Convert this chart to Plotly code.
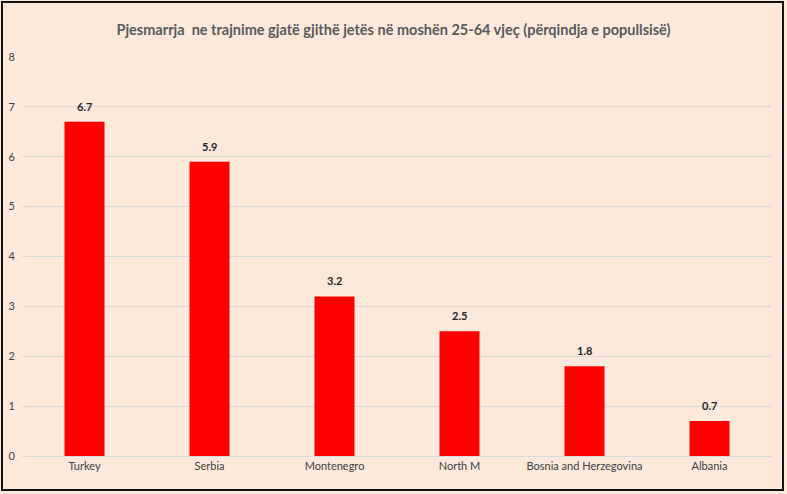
import plotly.graph_objects as go

countries = ["Turkey", "Serbia", "Montenegro", "North M", "Bosnia and Herzegovina", "Albania"]
values = [6.7, 5.9, 3.2, 2.5, 1.8, 0.7]
y_ticks = [0, 1, 2, 3, 4, 5, 6, 7, 8]

title_text = "Pjesmarrja  ne trajnime gjatë gjithë jetës në moshën 25-64 vjeç (përqindja e popullsisë)"

font_family = "Lato, Open Sans, sans-serif"

fig = go.Figure()

fig.add_trace(go.Bar(
    x=countries,
    y=values,
    marker=dict(color="#FF0000", line=dict(width=0)),
    hoverinfo="x+y",
))

# value labels sit a little above each bar
for c, v in zip(countries, values):
    fig.add_annotation(
        x=c, y=v, text=str(v),
        showarrow=False,
        yanchor="bottom", yshift=7,
        font=dict(family=font_family, size=11, color="#262626", weight="bold"),
    )

fig.update_layout(
    width=787,
    height=494,
    paper_bgcolor="#FCE9DB",
    plot_bgcolor="#FCE9DB",
    margin=dict(l=22, r=15, t=57, b=38),
    bargap=0.68,
    showlegend=False,
    title=dict(
        text=title_text,
        x=0.5,
        xanchor="center",
        y=1 - 30 / 494,
        yanchor="middle",
        font=dict(family=font_family, size=14.5, color="#595959", weight="bold"),
    ),
    font=dict(family=font_family, size=11, color="#404040"),
)

fig.update_yaxes(
    range=[0, 8],
    tickvals=y_ticks,
    showgrid=True,
    gridcolor="#D9D9D9",
    gridwidth=1,
    zeroline=False,
    showline=False,
    ticks="",
    automargin=False,
    ticklabelstandoff=6,
    tickfont=dict(size=11, color="#404040"),
)

fig.update_xaxes(
    showgrid=False,
    showline=True,
    linecolor="#D9D9D9",
    linewidth=1,
    ticks="",
    automargin=False,
    tickfont=dict(size=11, color="#404040"),
)

# dark frame round the whole chart
fig.add_shape(
    type="rect",
    xref="paper", yref="paper",
    x0=(2 - 22) / 750, x1=(783 - 22) / 750,
    y0=(456 - 490) / 399, y1=(456 - 2) / 399,
    line=dict(color="#111111", width=2),
    fillcolor="rgba(0,0,0,0)",
    layer="above",
)

fig.write_html("out.html", config={"displayModeBar": False},
               post_script="document.body.style.margin='0';")
